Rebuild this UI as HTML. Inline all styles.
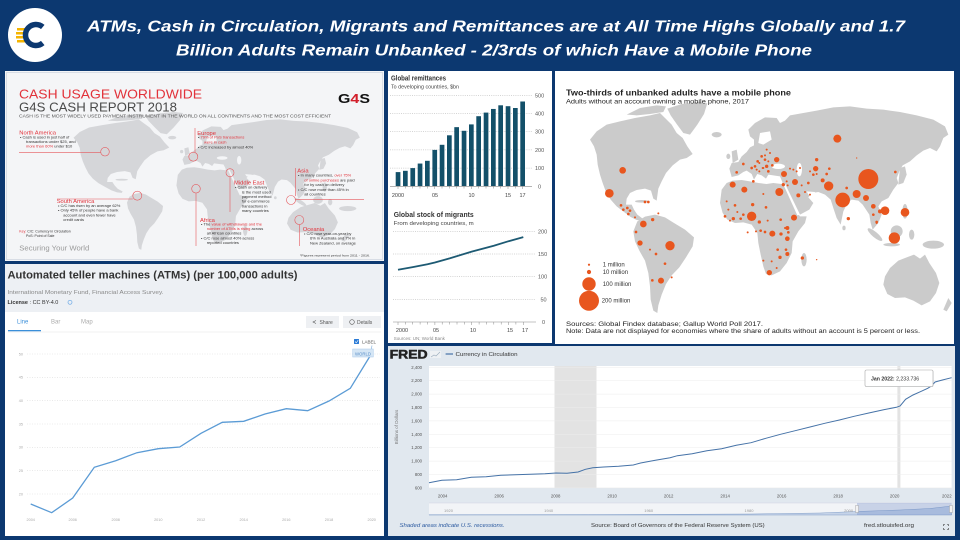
<!DOCTYPE html>
<html><head><meta charset="utf-8">
<style>html,body{margin:0;padding:0;background:#0c3870;}svg{display:block}</style>
</head><body>
<svg width="960" height="540" viewBox="0 0 960 540" xmlns="http://www.w3.org/2000/svg" xmlns:xlink="http://www.w3.org/1999/xlink" font-family="Liberation Sans, Arial, sans-serif">
<defs>
<g id="na">
<path d="M120,215 L140,190 L170,170 L210,160 L255,150 L300,142 L330,135 L345,150 L365,170 L380,195 L398,210 L412,235 L428,258 L410,270 L390,275 L368,292 L348,315 L335,340 L325,362 L320,398 L310,392 L303,368 L285,362 L260,366 L240,375 L230,392 L228,410 L245,410 L252,425 L262,440 L278,452 L275,458 L260,456 L242,447 L222,432 L200,415 L182,395 L168,372 L158,345 L150,320 L143,290 L140,260 L132,235 Z"/>
<path d="M230,140 L270,120 L320,112 L348,115 L340,132 L300,138 L260,142 Z"/>
<path d="M352,122 L395,108 L445,102 L472,106 L462,138 L442,170 L420,200 L400,195 L380,168 L362,142 Z"/>
<ellipse cx="275" cy="400" rx="20" ry="4"/>
</g>
<g id="sa"><path d="M262,460 L285,446 L315,440 L345,448 L372,465 L405,485 L432,508 L428,535 L408,568 L388,598 L365,622 L348,648 L335,680 L325,712 L322,735 L310,728 L302,695 L300,655 L295,615 L285,578 L268,548 L255,520 L250,490 Z"/></g>
<g id="eu">
<path d="M538,302 L545,285 L565,282 L575,265 L590,252 L600,238 L612,232 L612,215 L600,205 L595,185 L615,165 L645,148 L680,150 L690,165 L705,158 L720,142 L760,135 L800,128 L850,118 L900,115 L950,122 L1000,125 L1050,132 L1100,142 L1150,155 L1185,175 L1195,200 L1180,210 L1170,235 L1160,250 L1140,240 L1120,248 L1100,262 L1080,280 L1058,292 L1048,310 L1040,330 L1045,345 L1030,365 L1015,390 L995,400 L985,415 L995,440 L985,465 L968,485 L962,465 L958,440 L948,425 L938,410 L925,398 L905,395 L892,405 L880,430 L872,470 L860,450 L850,420 L842,395 L825,380 L805,372 L785,375 L775,388 L790,405 L778,425 L750,440 L738,438 L725,412 L712,385 L700,362 L697,342 L690,325 L670,322 L655,320 L648,332 L635,322 L622,318 L612,335 L605,318 L590,308 L580,312 L565,322 L545,327 Z"/>
<path d="M545,250 L560,245 L565,275 L548,285 Z"/>
<ellipse cx="535" cy="265" rx="6" ry="8"/>
<ellipse cx="500" cy="200" rx="15" ry="8"/>
<path d="M1050,300 L1065,295 L1070,320 L1060,345 L1045,350 Z"/>
<ellipse cx="1065" cy="430" rx="8" ry="22"/>
<ellipse cx="975" cy="500" rx="28" ry="8" transform="rotate(40 975 500)"/>
<ellipse cx="1040" cy="490" rx="18" ry="18"/>
<ellipse cx="1025" cy="530" rx="25" ry="5"/>
<ellipse cx="1085" cy="500" rx="8" ry="15"/>
<ellipse cx="1150" cy="530" rx="32" ry="12"/>
<ellipse cx="882" cy="480" rx="5" ry="7"/>
</g>
<g id="seas">
<ellipse cx="685" cy="295" rx="20" ry="8"/>
<ellipse cx="748" cy="305" rx="8" ry="20"/>
<path d="M630,195 L660,190 L665,215 L640,230 L625,225 Z"/>
<path d="M770,370 L795,372 L790,385 L775,380 Z"/>
</g>
<g id="af">
<path d="M515,365 L530,345 L548,338 L575,336 L600,340 L625,345 L650,348 L670,345 L695,348 L705,365 L720,395 L735,425 L750,445 L770,445 L765,465 L745,490 L728,520 L725,555 L710,585 L690,610 L665,622 L648,618 L640,595 L632,560 L625,525 L622,495 L605,470 L580,463 L555,465 L532,455 L518,435 L510,405 Z"/>
<ellipse cx="762" cy="575" rx="8" ry="20"/>
</g>
<g id="redsea"><path d="M698,345 L704,345 L750,440 L742,442 Z"/></g>
<g id="au">
<path d="M1005,625 L1020,600 L1045,578 L1070,568 L1092,560 L1110,572 L1125,560 L1138,585 L1158,615 L1168,645 L1158,675 L1140,700 L1115,712 L1090,698 L1065,688 L1035,690 L1012,678 L1000,650 Z"/>
<path d="M1195,690 L1205,705 L1190,730 L1180,725 Z"/>
</g>
</defs>

<rect width="960" height="540" fill="#0c3870"/>

<!-- HEADER -->
<circle cx="35" cy="35" r="27" fill="#fff"/>
<rect x="17" y="28" width="10" height="2.5" fill="#f5b400"/>
<rect x="16" y="32" width="11" height="2.5" fill="#f5b400"/>
<rect x="16" y="36" width="11" height="2.5" fill="#f5b400"/>
<rect x="17" y="40" width="10" height="2.5" fill="#f5b400"/>
<path d="M42.75,26.96 A10.5,10.5 0 1 0 42.75,43.04" fill="none" stroke="#0c3870" stroke-width="5.5"/>
<text x="496" y="31.5" text-anchor="middle" font-size="16" font-weight="bold" font-style="italic" fill="#fff" textLength="818" lengthAdjust="spacingAndGlyphs">ATMs, Cash in Circulation, Migrants and Remittances are at All Time Highs Globally and 1.7</text>
<text x="494" y="55.5" text-anchor="middle" font-size="16" font-weight="bold" font-style="italic" fill="#fff" textLength="636" lengthAdjust="spacingAndGlyphs">Billion Adults Remain Unbanked - 2/3rds of which Have a Mobile Phone</text>

<!-- G4S PANEL -->
<rect x="5" y="71" width="379" height="190" fill="#f4f5f7"/>
<rect x="6.5" y="72.5" width="376" height="187" fill="none" stroke="#d8dde5" stroke-width="1"/>
<g fill="#d5d6d9">
<use xlink:href="#na" transform="matrix(0.311,0,0,0.227,36.2,88.9)"/>
<use xlink:href="#sa" transform="matrix(0.198,0,0,0.193,77.5,108)"/>
<use xlink:href="#eu" transform="matrix(0.27,0,0,0.215,37.2,94.6)"/>
<use xlink:href="#af" transform="matrix(0.273,0,0,0.265,37.2,78.2)"/>
<use xlink:href="#au" transform="matrix(0.303,0,0,0.227,-16,75.9)"/>
</g>
<g fill="#f4f5f7">
<use xlink:href="#seas" transform="matrix(0.27,0,0,0.215,37.2,94.6)"/>
<use xlink:href="#redsea" transform="matrix(0.273,0,0,0.265,37.2,78.2)"/>
</g>
<text x="19" y="98.3" font-size="13" fill="#e2323a" textLength="183" lengthAdjust="spacingAndGlyphs">CASH USAGE WORLDWIDE</text>
<text x="19" y="111.7" font-size="13" fill="#4a4a4a" textLength="158" lengthAdjust="spacingAndGlyphs">G4S CASH REPORT 2018</text>
<text x="19" y="117.7" font-size="4.3" fill="#555" textLength="312" lengthAdjust="spacingAndGlyphs">CASH IS THE MOST WIDELY USED PAYMENT INSTRUMENT IN THE WORLD ON ALL CONTINENTS AND THE MOST COST EFFICIENT</text>
<text x="338" y="103" font-size="12.5" font-weight="bold" fill="#111" textLength="32" lengthAdjust="spacingAndGlyphs">G<tspan fill="#d21f2b">4</tspan>S</text>

<g fill="none" stroke="#e5575c" stroke-width="0.6">
<circle cx="105" cy="151.7" r="4.3"/>
<line x1="19" y1="152.3" x2="100.7" y2="152.3"/>
<circle cx="193.3" cy="156.7" r="4.5"/>
<line x1="195" y1="128" x2="195" y2="152.2"/>
<circle cx="230" cy="172.7" r="4"/>
<line x1="230" y1="176.7" x2="230" y2="212"/>
<circle cx="196" cy="188.7" r="4.3"/>
<line x1="196" y1="193" x2="196" y2="246"/>
<circle cx="137.3" cy="195.7" r="4.5"/>
<line x1="57" y1="199" x2="132.8" y2="199"/>
<circle cx="291" cy="200" r="4.5"/>
<line x1="295.5" y1="199.3" x2="364" y2="199.3"/>
<line x1="295.7" y1="168" x2="295.7" y2="196"/>
<circle cx="299.3" cy="220" r="4.5"/>
<line x1="299.3" y1="224.5" x2="299.3" y2="246"/>
</g>

<g font-size="5.8" fill="#e2323a">
<text x="19.3" y="134.5">North America</text>
<text x="197.3" y="135">Europe</text>
<text x="297.3" y="172.5">Asia</text>
<text x="234" y="184.5">Middle East</text>
<text x="56.7" y="203">South America</text>
<text x="200" y="222">Africa</text>
<text x="302.7" y="231">Oceania</text>
</g>
<g font-size="4" fill="#333">
<text x="20" y="138.3">•  Cash is used in just half of</text>
<text x="26" y="143">transactions under $25, and</text>
<text x="26" y="147.7"><tspan fill="#e2323a">more than 60%</tspan> under $10</text>
<text x="198" y="138.6">•  <tspan fill="#e2323a">79% of PoS transactions</tspan></text>
<text x="204" y="143.3" fill="#e2323a">were in cash</text>
<text x="198" y="148.3">•  C/C increased by almost 40%</text>
<text x="298" y="176.7">•  In many countries, <tspan fill="#e2323a">over 75%</tspan></text>
<text x="304.3" y="181.3"><tspan fill="#e2323a">of online purchases</tspan> are paid</text>
<text x="304.3" y="186">for by cash on delivery</text>
<text x="298" y="191">•  C/C rose more than 45% in</text>
<text x="304.3" y="195.7">all countries</text>
<text x="235" y="188.7">•  Cash on delivery</text>
<text x="241.7" y="193.3">is the most used</text>
<text x="241.7" y="198">payment method</text>
<text x="241.7" y="202.7">for e-commerce</text>
<text x="241.7" y="207.3">transactions in</text>
<text x="241.7" y="212">many countries</text>
<text x="58" y="207">•  C/C has risen by an average 62%</text>
<text x="58" y="211.7">•  Only 45% of people have a bank</text>
<text x="63.3" y="216.3">account and even fewer have</text>
<text x="63.3" y="221">credit cards</text>
<text x="201" y="225.3">•  The <tspan fill="#e2323a">value of withdrawals and the</tspan></text>
<text x="206.7" y="230"><tspan fill="#e2323a">number of ATMs is rising</tspan> across</text>
<text x="206.7" y="234.7">all African countries</text>
<text x="201" y="239.3">•  C/C rose almost 40% across</text>
<text x="206.7" y="244">reported countries</text>
<text x="304" y="235">•  C/C rose year-on-year by</text>
<text x="310" y="239.7">6% in Australia and 7% in</text>
<text x="310" y="244.3">New Zealand, on average</text>
</g>
<text x="19.3" y="232.5" font-size="3.5" fill="#333"><tspan fill="#e2323a">Key:</tspan> C/C: Currency in Circulation</text>
<text x="26" y="237" font-size="3.5" fill="#333">PoS: Point of Sale</text>
<text x="19.3" y="250.5" font-size="7.5" fill="#9a9a9a" textLength="70" lengthAdjust="spacingAndGlyphs">Securing Your World</text>
<text x="300" y="256.5" font-size="3" fill="#333" textLength="70" lengthAdjust="spacingAndGlyphs">*Figures represent period from 2011 - 2016.</text>

<!-- ATM PANEL -->
<rect x="5" y="264" width="379" height="272" fill="#fff"/>
<rect x="5" y="264" width="379" height="48" fill="#edf0f4"/>
<text x="7.5" y="278.5" font-size="11" font-weight="bold" fill="#333" textLength="290" lengthAdjust="spacingAndGlyphs">Automated teller machines (ATMs) (per 100,000 adults)</text>
<text x="7.5" y="294" font-size="5.5" fill="#8a8a8a" textLength="156" lengthAdjust="spacingAndGlyphs">International Monetary Fund, Financial Access Survey.</text>
<text x="7.5" y="304" font-size="5.5" fill="#333"><tspan font-weight="bold">License</tspan> : CC BY-4.0</text>
<circle cx="70" cy="302.3" r="2" fill="none" stroke="#6aa8e6" stroke-width="0.7"/>
<text x="17" y="323.5" font-size="6" fill="#3b8fd9">Line</text>
<text x="51" y="323.5" font-size="6" fill="#aaa">Bar</text>
<text x="81" y="323.5" font-size="6" fill="#aaa">Map</text>
<rect x="8" y="330" width="33" height="1.3" fill="#3b8fd9"/>
<line x1="8" y1="332" x2="381" y2="332" stroke="#eee" stroke-width="0.8"/>
<rect x="306" y="316" width="33" height="12" fill="#eef0f3"/>
<path d="M316,320.5 L313,322 L316,323.5" fill="none" stroke="#555" stroke-width="0.6"/>
<text x="319.5" y="324" font-size="5" fill="#555">Share</text>
<rect x="343" y="316" width="38" height="12" fill="#eef0f3"/>
<circle cx="352" cy="322" r="2.3" fill="none" stroke="#555" stroke-width="0.6"/>
<text x="357" y="324" font-size="5" fill="#555">Details</text>

<g stroke="#dcdcdc" stroke-width="0.6" stroke-dasharray="1,1.5">
<line x1="27" y1="354" x2="380" y2="354"/>
<line x1="27" y1="377.3" x2="380" y2="377.3"/>
<line x1="27" y1="400.7" x2="380" y2="400.7"/>
<line x1="27" y1="424" x2="380" y2="424"/>
<line x1="27" y1="447.3" x2="380" y2="447.3"/>
<line x1="27" y1="470.7" x2="380" y2="470.7"/>
<line x1="27" y1="494" x2="380" y2="494"/>
</g>
<g font-size="3.8" fill="#aaa" text-anchor="end">
<text x="23" y="355.3">50</text><text x="23" y="378.6">45</text><text x="23" y="402">40</text><text x="23" y="425.3">35</text><text x="23" y="448.6">30</text><text x="23" y="472">25</text><text x="23" y="495.3">20</text>
</g>
<g font-size="3.8" fill="#aaa" text-anchor="middle">
<text x="30.7" y="521">2004</text><text x="72.7" y="521">2006</text><text x="115.7" y="521">2008</text><text x="158.3" y="521">2010</text><text x="201" y="521">2012</text><text x="243.7" y="521">2014</text><text x="286.3" y="521">2016</text><text x="329" y="521">2018</text><text x="371.7" y="521">2020</text>
</g>
<polyline fill="none" stroke="#5b9bd5" stroke-width="1.3" points="30.7,504 51.7,512.7 72.7,498 94.3,467.3 115.7,460.7 137,452.7 158.3,448.7 179.7,447 201,433.3 222.3,422.3 243.7,421.3 265,414 286.3,408.7 307.7,410.7 329,401 350.3,388.3 370.7,355"/>
<rect x="354" y="339" width="5" height="5" fill="#2b7bd6" rx="0.5"/>
<path d="M355,341.5 L356.3,342.8 L358.2,340.2" fill="none" stroke="#fff" stroke-width="0.6"/>
<text x="362" y="343.5" font-size="4.5" fill="#555">LABEL</text>
<line x1="370.7" y1="355" x2="372" y2="345.5" stroke="#5b9bd5" stroke-width="0.5"/>
<rect x="352.7" y="349" width="20.6" height="8" fill="#d5e6f5" stroke="#a8c8e8" stroke-width="0.5"/>
<text x="363" y="355.3" font-size="4.3" fill="#5b8fc8" text-anchor="middle">WORLD</text>

<!-- MIDDLE PANEL -->
<rect x="388" y="71" width="164" height="272" fill="#fff"/>
<text x="391" y="80.5" font-size="7" font-weight="bold" fill="#333" textLength="55" lengthAdjust="spacingAndGlyphs">Global remittances</text>
<text x="391" y="88.5" font-size="5.5" fill="#444" textLength="68" lengthAdjust="spacingAndGlyphs">To developing countries, $bn</text>
<g stroke="#aaa" stroke-width="0.5" stroke-dasharray="1,1.2">
<line x1="390" y1="95.3" x2="532" y2="95.3"/>
<line x1="390" y1="113.5" x2="532" y2="113.5"/>
<line x1="390" y1="131.7" x2="532" y2="131.7"/>
<line x1="390" y1="149.9" x2="532" y2="149.9"/>
<line x1="390" y1="168.1" x2="532" y2="168.1"/>
</g>
<g font-size="5.5" fill="#555">
<text x="535" y="97.3">500</text><text x="535" y="115.5">400</text><text x="535" y="133.7">300</text><text x="535" y="151.9">200</text><text x="535" y="170.1">100</text><text x="538" y="188.3">0</text>
</g>
<g fill="#135069">
<rect x="395.7" y="172.1" width="4.7" height="14.2"/>
<rect x="403.0" y="170.8" width="4.7" height="15.5"/>
<rect x="410.4" y="168.1" width="4.7" height="18.2"/>
<rect x="417.7" y="163.55" width="4.7" height="22.75"/>
<rect x="425.0" y="160.8" width="4.7" height="25.5"/>
<rect x="432.4" y="149.9" width="4.7" height="36.4"/>
<rect x="439.7" y="144.8" width="4.7" height="41.5"/>
<rect x="447.0" y="135.3" width="4.7" height="51.0"/>
<rect x="454.3" y="127.15" width="4.7" height="59.15"/>
<rect x="461.7" y="130.8" width="4.7" height="55.5"/>
<rect x="469.0" y="124.4" width="4.7" height="61.9"/>
<rect x="476.3" y="116.2" width="4.7" height="70.1"/>
<rect x="483.7" y="112.6" width="4.7" height="73.7"/>
<rect x="491.0" y="108.95" width="4.7" height="77.35"/>
<rect x="498.3" y="105.3" width="4.7" height="81.0"/>
<rect x="505.7" y="106.2" width="4.7" height="80.1"/>
<rect x="513.0" y="108.0" width="4.7" height="78.3"/>
<rect x="520.3" y="101.5" width="4.7" height="84.8"/>
</g>
<line x1="390" y1="186.3" x2="532" y2="186.3" stroke="#888" stroke-width="0.6"/>
<g stroke="#888" stroke-width="0.5">
<line x1="398" y1="186.3" x2="398" y2="189"/><line x1="405.4" y1="186.3" x2="405.4" y2="188.5"/><line x1="412.7" y1="186.3" x2="412.7" y2="188.5"/><line x1="420" y1="186.3" x2="420" y2="188.5"/><line x1="427.4" y1="186.3" x2="427.4" y2="188.5"/><line x1="434.7" y1="186.3" x2="434.7" y2="189"/><line x1="442" y1="186.3" x2="442" y2="188.5"/><line x1="449.4" y1="186.3" x2="449.4" y2="188.5"/><line x1="456.7" y1="186.3" x2="456.7" y2="188.5"/><line x1="464" y1="186.3" x2="464" y2="188.5"/><line x1="471.3" y1="186.3" x2="471.3" y2="189"/><line x1="478.7" y1="186.3" x2="478.7" y2="188.5"/><line x1="486" y1="186.3" x2="486" y2="188.5"/><line x1="493.3" y1="186.3" x2="493.3" y2="188.5"/><line x1="500.7" y1="186.3" x2="500.7" y2="188.5"/><line x1="508" y1="186.3" x2="508" y2="189"/><line x1="515.3" y1="186.3" x2="515.3" y2="188.5"/><line x1="522.7" y1="186.3" x2="522.7" y2="189"/>
</g>
<g font-size="5.5" fill="#444" text-anchor="middle">
<text x="398" y="197">2000</text><text x="435" y="197">05</text><text x="471.5" y="197">10</text><text x="508" y="197">15</text><text x="522.5" y="197">17</text>
</g>

<text x="393.7" y="217" font-size="7" font-weight="bold" fill="#333" textLength="80" lengthAdjust="spacingAndGlyphs">Global stock of migrants</text>
<text x="393.7" y="225" font-size="5.5" fill="#444" textLength="80" lengthAdjust="spacingAndGlyphs">From developing countries, m</text>
<g stroke="#aaa" stroke-width="0.5" stroke-dasharray="1,1.2">
<line x1="393" y1="231.3" x2="536" y2="231.3"/>
<line x1="393" y1="254" x2="536" y2="254"/>
<line x1="393" y1="276.7" x2="536" y2="276.7"/>
<line x1="393" y1="299.3" x2="536" y2="299.3"/>
</g>
<g font-size="5.5" fill="#555">
<text x="538" y="233.3">200</text><text x="538" y="256">150</text><text x="538" y="278.7">100</text><text x="540.5" y="301.3">50</text><text x="542" y="324">0</text>
</g>
<line x1="393" y1="322" x2="536" y2="322" stroke="#888" stroke-width="0.6"/>
<g stroke="#888" stroke-width="0.5">
<line x1="398" y1="322" x2="398" y2="325"/><line x1="405.4" y1="322" x2="405.4" y2="324.5"/><line x1="412.7" y1="322" x2="412.7" y2="324.5"/><line x1="420.1" y1="322" x2="420.1" y2="324.5"/><line x1="427.5" y1="322" x2="427.5" y2="324.5"/><line x1="434.9" y1="322" x2="434.9" y2="325"/><line x1="442.2" y1="322" x2="442.2" y2="324.5"/><line x1="449.6" y1="322" x2="449.6" y2="324.5"/><line x1="457" y1="322" x2="457" y2="324.5"/><line x1="464.3" y1="322" x2="464.3" y2="324.5"/><line x1="471.7" y1="322" x2="471.7" y2="325"/><line x1="479.1" y1="322" x2="479.1" y2="324.5"/><line x1="486.4" y1="322" x2="486.4" y2="324.5"/><line x1="493.8" y1="322" x2="493.8" y2="324.5"/><line x1="501.2" y1="322" x2="501.2" y2="324.5"/><line x1="508.6" y1="322" x2="508.6" y2="325"/><line x1="515.9" y1="322" x2="515.9" y2="324.5"/><line x1="523.3" y1="322" x2="523.3" y2="325"/>
</g>
<polyline fill="none" stroke="#1d5a73" stroke-width="1.8" points="398,269.8 412.7,267.1 427.5,264.3 434.9,262.5 449.6,258.4 471.7,251.6 493.8,245.7 508.6,241.2 523.3,237.1"/>
<g font-size="5.5" fill="#444" text-anchor="middle">
<text x="402" y="332">2000</text><text x="436" y="332">05</text><text x="473" y="332">10</text><text x="510" y="332">15</text><text x="525" y="332">17</text>
</g>
<text x="393.7" y="340" font-size="4.5" fill="#888">Sources: UN; World Bank</text>

<!-- MAP PANEL -->
<rect x="555" y="71" width="399" height="273" fill="#fff"/>
<g transform="translate(550,68) scale(0.33333)">
<g fill="#cbcbcb">
<use xlink:href="#na"/><use xlink:href="#sa"/><use xlink:href="#eu"/><use xlink:href="#af"/><use xlink:href="#au"/>
</g>
<g fill="#fff"><use xlink:href="#seas"/><use xlink:href="#redsea"/></g>
<g fill="#e8561e">
<circle cx="862" cy="212" r="12"/><circle cx="218" cy="307" r="10"/><circle cx="178" cy="376" r="13"/><circle cx="955" cy="333" r="30"/><circle cx="878" cy="396" r="22"/><circle cx="836" cy="354" r="14"/><circle cx="920" cy="378" r="12"/><circle cx="948" cy="390" r="9"/><circle cx="1033" cy="510" r="17"/><circle cx="1065" cy="433" r="13"/><circle cx="1005" cy="428" r="13"/><circle cx="605" cy="445" r="14"/><circle cx="688" cy="372" r="12"/><circle cx="732" cy="449" r="9"/><circle cx="360" cy="533" r="14"/><circle cx="280" cy="468" r="10"/><circle cx="548" cy="350" r="9"/><circle cx="583" cy="365" r="9"/><circle cx="702" cy="318" r="9"/><circle cx="735" cy="342" r="9"/><circle cx="797" cy="302" r="8"/><circle cx="680" cy="275" r="8"/><circle cx="270" cy="525" r="8"/><circle cx="333" cy="638" r="9"/><circle cx="667" cy="497" r="9"/><circle cx="712" cy="512" r="7"/><circle cx="658" cy="614" r="8"/><circle cx="970" cy="415" r="7"/><circle cx="990" cy="430" r="6"/><circle cx="895" cy="452" r="5"/><circle cx="757" cy="570" r="5"/><circle cx="308" cy="455" r="5"/><circle cx="800" cy="275" r="5"/><circle cx="818" cy="337" r="6"/><circle cx="700" cy="350" r="5"/><circle cx="745" cy="382" r="6"/><circle cx="712" cy="480" r="6"/><circle cx="712" cy="558" r="6"/><circle cx="980" cy="462" r="4"/>
<circle cx="530" cy="400" r="3"/><circle cx="555" cy="412" r="4"/><circle cx="525" cy="445" r="4"/><circle cx="550" cy="452" r="5"/><circle cx="572" cy="452" r="4"/><circle cx="580" cy="440" r="4"/><circle cx="562" cy="432" r="3"/><circle cx="608" cy="410" r="5"/><circle cx="648" cy="418" r="4"/><circle cx="640" cy="378" r="3"/><circle cx="628" cy="462" r="5"/><circle cx="653" cy="458" r="3"/><circle cx="692" cy="455" r="4"/><circle cx="705" cy="480" r="3"/><circle cx="693" cy="498" r="5"/><circle cx="715" cy="493" r="4"/><circle cx="683" cy="545" r="4"/><circle cx="708" cy="545" r="4"/><circle cx="690" cy="568" r="5"/><circle cx="665" cy="580" r="3"/><circle cx="640" cy="578" r="3"/><circle cx="632" cy="488" r="4"/><circle cx="618" cy="490" r="3"/><circle cx="645" cy="492" r="4"/><circle cx="593" cy="493" r="3"/><circle cx="610" cy="340" r="4"/><circle cx="535" cy="425" r="3"/><circle cx="540" cy="458" r="3"/><circle cx="680" cy="600" r="3"/>
<circle cx="580" cy="288" r="4"/><circle cx="560" cy="313" r="4"/><circle cx="605" cy="300" r="4"/><circle cx="615" cy="295" r="4"/><circle cx="623" cy="280" r="4"/><circle cx="635" cy="265" r="4"/><circle cx="645" cy="275" r="4"/><circle cx="650" cy="295" r="5"/><circle cx="655" cy="310" r="4"/><circle cx="638" cy="300" r="3"/><circle cx="628" cy="310" r="3"/><circle cx="620" cy="305" r="3"/><circle cx="660" cy="255" r="3"/><circle cx="650" cy="245" r="3"/><circle cx="645" cy="262" r="3"/><circle cx="640" cy="300" r="3"/><circle cx="667" cy="292" r="4"/><circle cx="628" cy="285" r="3"/><circle cx="655" cy="280" r="3"/>
<circle cx="720" cy="302" r="3"/><circle cx="740" cy="310" r="3"/><circle cx="750" cy="300" r="3"/><circle cx="780" cy="310" r="3"/><circle cx="790" cy="320" r="4"/><circle cx="800" cy="318" r="3"/><circle cx="830" cy="318" r="4"/><circle cx="838" cy="302" r="4"/><circle cx="775" cy="345" r="4"/><circle cx="765" cy="372" r="3"/><circle cx="780" cy="380" r="3"/><circle cx="710" cy="340" r="3"/><circle cx="713" cy="352" r="3"/><circle cx="755" cy="352" r="3"/><circle cx="730" cy="305" r="3"/>
<circle cx="213" cy="412" r="4"/><circle cx="220" cy="425" r="4"/><circle cx="232" cy="420" r="4"/><circle cx="240" cy="428" r="4"/><circle cx="235" cy="438" r="4"/><circle cx="285" cy="402" r="4"/><circle cx="295" cy="402" r="4"/><circle cx="255" cy="448" r="3"/><circle cx="325" cy="436" r="3"/>
<circle cx="258" cy="492" r="4"/><circle cx="318" cy="558" r="4"/><circle cx="345" cy="587" r="4"/><circle cx="307" cy="637" r="4"/><circle cx="365" cy="628" r="3"/><circle cx="300" cy="545" r="3"/>
<circle cx="1036" cy="312" r="4"/><circle cx="890" cy="360" r="4"/><circle cx="920" cy="270" r="2"/><circle cx="970" cy="440" r="4"/><circle cx="980" cy="465" r="3"/><circle cx="800" cy="575" r="2"/>
</g>
</g>
<text x="566" y="95.5" font-size="8.5" font-weight="bold" fill="#222" textLength="225" lengthAdjust="spacingAndGlyphs">Two-thirds of unbanked adults have a mobile phone</text>
<text x="566" y="103.5" font-size="6.8" fill="#222" textLength="183" lengthAdjust="spacingAndGlyphs">Adults without an account owning a mobile phone, 2017</text>
<g fill="#e8561e">
<circle cx="589" cy="264.7" r="1.1"/><circle cx="589" cy="272" r="2.1"/><circle cx="589" cy="284" r="6.7"/><circle cx="589" cy="300.7" r="10"/>
</g>
<g font-size="6" fill="#333">
<text x="602.7" y="266.7">1 million</text><text x="602.7" y="274">10 million</text><text x="602.7" y="286">100 million</text><text x="601.7" y="302.7">200 million</text>
</g>
<text x="566" y="326" font-size="6.6" fill="#222" textLength="197" lengthAdjust="spacingAndGlyphs">Sources: Global Findex database; Gallup World Poll 2017.</text>
<text x="566" y="332.8" font-size="6.6" fill="#222" textLength="354" lengthAdjust="spacingAndGlyphs">Note: Data are not displayed for economies where the share of adults without an account is 5 percent or less.</text>

<!-- FRED PANEL -->
<rect x="388" y="346" width="567" height="190" fill="#e1e8ef"/>
<text x="389.6" y="358.3" font-size="11.5" font-weight="bold" fill="#222" stroke="#222" stroke-width="0.5" textLength="38" lengthAdjust="spacingAndGlyphs">FRED</text>
<rect x="430" y="351" width="11" height="7" fill="#eef1f4"/>
<polyline points="431,357 434,355 436,356 440,352" fill="none" stroke="#9ab" stroke-width="0.6"/>
<line x1="445.6" y1="354" x2="453" y2="354" stroke="#4572a7" stroke-width="1.2"/>
<text x="455.5" y="356" font-size="5.2" fill="#333" textLength="62" lengthAdjust="spacingAndGlyphs">Currency in Circulation</text>
<rect x="429" y="366" width="522.6" height="122" fill="#fff"/>
<rect x="554.5" y="366" width="42" height="122" fill="#e3e3e3"/>
<rect x="897.4" y="366" width="3" height="122" fill="#e3e3e3"/>
<g stroke="#ececec" stroke-width="0.5">
<line x1="429" y1="367.3" x2="951.6" y2="367.3"/><line x1="429" y1="380.7" x2="951.6" y2="380.7"/><line x1="429" y1="394.1" x2="951.6" y2="394.1"/><line x1="429" y1="407.5" x2="951.6" y2="407.5"/><line x1="429" y1="420.9" x2="951.6" y2="420.9"/><line x1="429" y1="434.3" x2="951.6" y2="434.3"/><line x1="429" y1="447.7" x2="951.6" y2="447.7"/><line x1="429" y1="461.1" x2="951.6" y2="461.1"/><line x1="429" y1="474.5" x2="951.6" y2="474.5"/><line x1="429" y1="487.9" x2="951.6" y2="487.9"/>
</g>
<g font-size="4.3" fill="#555" text-anchor="end">
<text x="422" y="368.8">2,400</text><text x="422" y="382.2">2,200</text><text x="422" y="395.6">2,000</text><text x="422" y="409">1,800</text><text x="422" y="422.4">1,600</text><text x="422" y="435.8">1,400</text><text x="422" y="449.2">1,200</text><text x="422" y="462.6">1,000</text><text x="422" y="476">800</text><text x="422" y="489.4">600</text>
</g>
<text transform="translate(398,427) rotate(-90)" font-size="4.5" fill="#777" text-anchor="middle">Billions of Dollars</text>
<g font-size="4.3" fill="#555" text-anchor="middle">
<text x="442.6" y="497.5">2004</text><text x="499.1" y="497.5">2006</text><text x="555.6" y="497.5">2008</text><text x="612.1" y="497.5">2010</text><text x="668.6" y="497.5">2012</text><text x="725.1" y="497.5">2014</text><text x="781.6" y="497.5">2016</text><text x="838.1" y="497.5">2018</text><text x="894.6" y="497.5">2020</text><text x="951.6" y="497.5" text-anchor="end">2022</text>
</g>
<polyline fill="none" stroke="#4572a7" stroke-width="1" points="429,482.7 441.9,480.3 456.6,479.7 471.3,477.3 486.1,476.7 500.8,475.3 515.5,474.7 530.2,474.3 544.9,473.7 556,473 567,473.3 578.1,472 585.4,469.3 592.8,467.7 603.8,467 618.6,466.3 633.3,465 640.6,463 655.4,460.3 670.1,457.7 677.4,455.7 692.2,453.7 706.9,450.7 721.6,448.7 736.3,445.3 751.1,442.7 765.8,438.3 780.5,434.3 795.2,430.7 810,427 824.7,423.3 839.4,420 854.1,416.3 868.8,413 883.6,409.7 896.4,407.3 900.1,406 905.6,399.3 913,395 920.4,391.7 927.7,388.3 931.4,386 935.1,382 942.4,380 951.6,377.7"/>
<rect x="865.5" y="370.5" width="68" height="16.5" rx="1.5" fill="#c8ccd2" opacity="0.6"/>
<rect x="865" y="370" width="68" height="16.5" rx="1.5" fill="#fff" stroke="#a8a8a8" stroke-width="0.6"/>
<text x="871" y="380.3" font-size="5.2" fill="#333"><tspan font-weight="bold">Jan 2022:</tspan> 2,233.736</text>
<rect x="429" y="503" width="522.6" height="12" fill="#f2f4f7"/>
<line x1="429" y1="503" x2="951.6" y2="503" stroke="#ccd" stroke-width="0.4"/>
<path d="M429,514.8 L600,514.6 L750,514 L820,513 L857,511.5 L900,510 L930,508.5 L951.6,506 L951.6,515 L429,515 Z" fill="#c5d3e8" stroke="#6c8ebf" stroke-width="0.4"/>
<rect x="857" y="503" width="94.6" height="12" fill="#6685c2" fill-opacity="0.3"/>
<rect x="855.5" y="505.5" width="3" height="7" fill="#f2f2f2" stroke="#999" stroke-width="0.4"/>
<rect x="949.5" y="505.5" width="3" height="7" fill="#f2f2f2" stroke="#999" stroke-width="0.4"/>
<g font-size="4" fill="#999" text-anchor="middle">
<text x="448.5" y="512">1920</text><text x="548.6" y="512">1940</text><text x="648.7" y="512">1960</text><text x="749" y="512">1980</text><text x="848.6" y="512">2000</text>
</g>
<text x="399.5" y="527" font-size="5" font-style="italic" fill="#2c5aa0" textLength="105" lengthAdjust="spacingAndGlyphs">Shaded areas indicate U.S. recessions.</text>
<text x="591" y="527" font-size="5" fill="#333" textLength="173.7" lengthAdjust="spacingAndGlyphs">Source: Board of Governors of the Federal Reserve System (US)</text>
<text x="864" y="527" font-size="5" fill="#333" textLength="50" lengthAdjust="spacingAndGlyphs">fred.stlouisfed.org</text>
<g fill="none" stroke="#333" stroke-width="0.6">
<path d="M943.5,526 V524.5 H945"/><path d="M947,524.5 H948.5 V526"/><path d="M943.5,528 V529.5 H945"/><path d="M947,529.5 H948.5 V528"/>
</g>
</svg>
</body></html>
